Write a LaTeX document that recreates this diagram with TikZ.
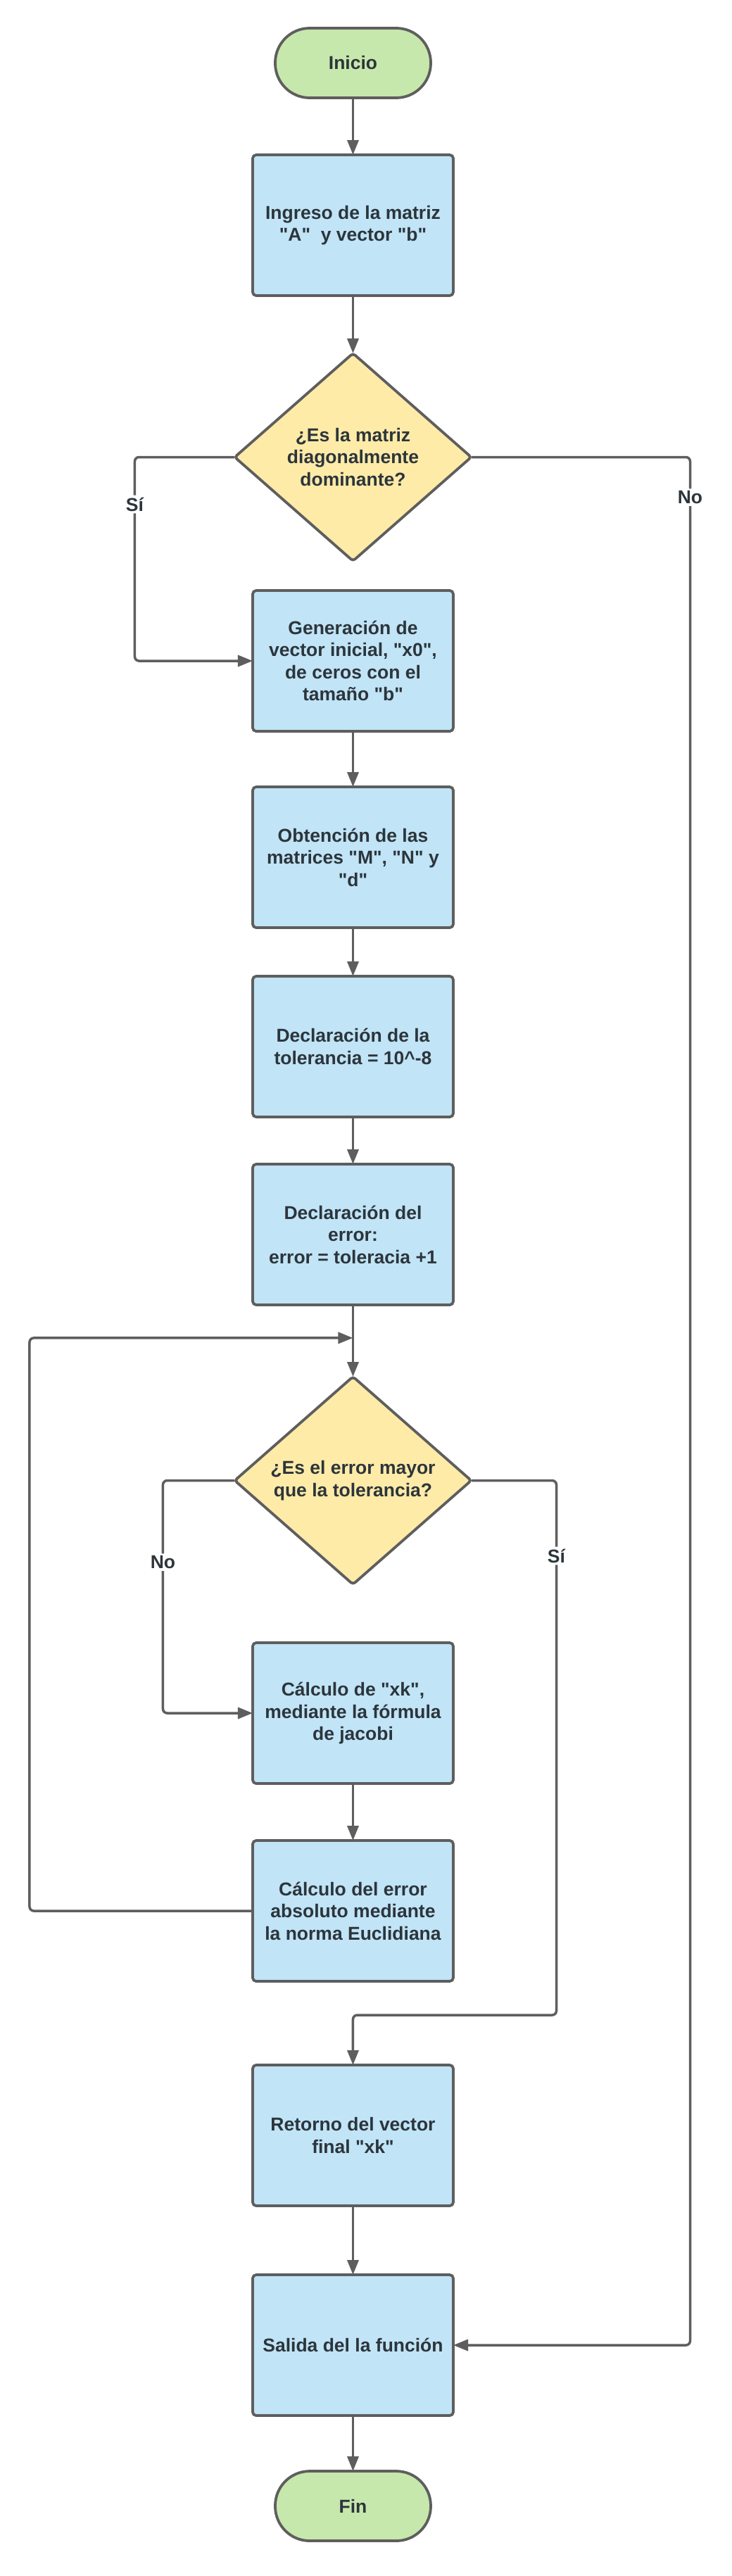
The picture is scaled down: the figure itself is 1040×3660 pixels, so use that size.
\documentclass[tikz,border=0pt]{standalone}
\usepackage{fontspec}
\newfontfamily\flowfont{Liberation Sans}
\usetikzlibrary{positioning,calc,shapes.geometric,arrows.meta}

\definecolor{startgreen}{HTML}{C7E8AC}
\definecolor{stepblue}{HTML}{C1E4F7}
\definecolor{askyellow}{HTML}{FFEBA8}
\definecolor{linegray}{HTML}{5E5E5E}
\definecolor{txtgray}{HTML}{2C353B}

\begin{document}
\begin{tikzpicture}[node distance=80pt, >={Triangle[length=21pt,width=16pt]},
  every node/.style={font=\flowfont\fontsize{26.5}{31.5}\selectfont\bfseries, text=txtgray},
  terminal/.style={rectangle, rounded corners=49pt, draw=linegray, line width=3.8pt, fill=startgreen, minimum width=221pt, minimum height=99pt, outer sep=0pt},
  stepbox/.style={rectangle, rounded corners=5pt, draw=linegray, line width=3.8pt, fill=stepblue, minimum width=285pt, minimum height=200pt, align=center, outer sep=0pt},
  decision/.style={diamond, rounded corners=4pt, draw=linegray, line width=3.8pt, fill=askyellow, minimum width=336pt, minimum height=295pt, inner sep=0pt, align=center, outer sep=0pt},
  arrow/.style={->, line width=3.5pt, draw=linegray, rounded corners=6pt},
  lbl/.style={fill=white, inner sep=3pt}]

  \path[use as bounding box, fill=white] (-501.5pt,89.5pt) rectangle (538.5pt,-3570.5pt);

  \node [terminal] (inicio) {Inicio};
  \node [stepbox, below=81pt of inicio] (ingreso) {Ingreso de la matriz\\ "A"~ y vector "b"};
  \node [decision, below=82pt of ingreso] (dom) {¿Es la matriz\\ diagonalmente\\ dominante?};
  \node [stepbox, below=42pt of dom] (gen) {Generación de\\ vector inicial, "x0",\\ de ceros con el\\ tamaño "b"};
  \node [stepbox, below=79pt of gen] (obt) {Obtención de las\\ matrices "M", "N" y\\ "d"};
  \node [stepbox, below=69pt of obt] (tol) {Declaración de la\\ tolerancia = 10\^{}-8};
  \node [stepbox, below=67pt of tol] (err) {Declaración del\\ error:\\ error = toleracia +1};
  \node [decision, below=102pt of err] (cond) {¿Es el error mayor\\ que la tolerancia?};
  \node [stepbox, below=83pt of cond] (xk) {Cálculo de "xk",\\ mediante la fórmula\\ de jacobi};
  \node [stepbox, below=81pt of xk] (calerr) {Cálculo del error\\ absoluto mediante\\ la norma Euclidiana};
  \node [stepbox, below=119pt of calerr] (ret) {Retorno del vector\\ final "xk"};
  \node [stepbox, below=98pt of ret] (salida) {Salida del la función};
  \node [terminal, below=79pt of salida] (fin) {Fin};

  \coordinate (merge) at ($(err.south)!0.46!(cond.north)$);
  \coordinate (joinS) at ($(ret.north)+(0,71pt)$);

  \draw [arrow] (inicio) -- (ingreso);
  \draw [arrow] (ingreso) -- (dom);
  \draw [arrow] (dom.west) -| ++(-142pt,-67pt) node[lbl]{Sí} |- (gen.west);
  \draw [arrow] (dom.east) -| ++(311pt,-57pt) node[lbl]{No} |- (salida.east);
  \draw [arrow] (gen) -- (obt);
  \draw [arrow] (obt) -- (tol);
  \draw [arrow] (tol) -- (err);
  \draw [arrow] (err) -- (cond);
  \draw [arrow] (cond.west) -| ++(-102pt,-116pt) node[lbl]{No} |- (xk.west);
  \draw [arrow] (cond.east) -| ++(121pt,-107pt) node[lbl]{Sí} |- (joinS) -- (ret.north);
  \draw [arrow] (xk) -- (calerr);
  \draw [arrow] (calerr.west) -- ++(-317pt,0) |- (merge);
  \draw [arrow] (ret) -- (salida);
  \draw [arrow] (salida) -- (fin);
\end{tikzpicture}
\end{document}
